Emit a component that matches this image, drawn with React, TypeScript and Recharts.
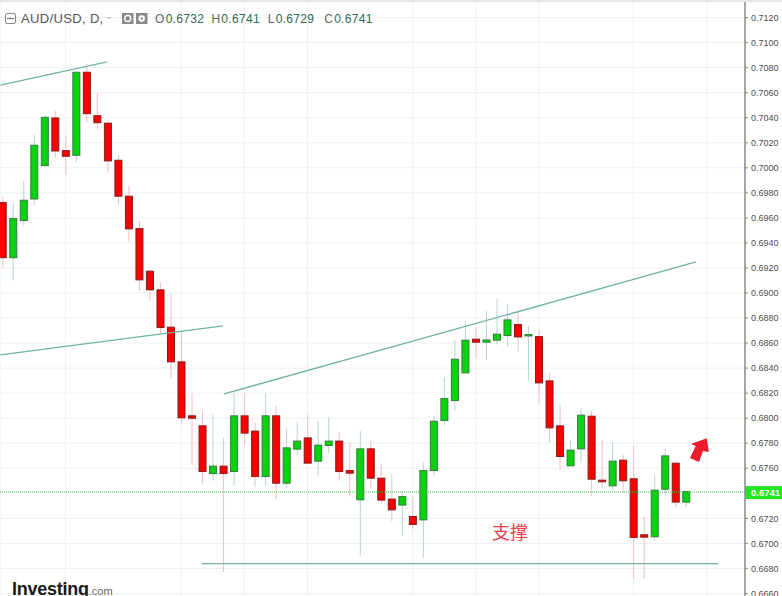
import React from "react";
import {
  ComposedChart,
  Bar,
  XAxis,
  YAxis,
  CartesianGrid,
  ReferenceLine,
} from "recharts";

const opens = [
  0.69722, 0.69282, 0.69578, 0.69751, 0.70017, 0.70398, 0.70137, 0.701, 0.70763, 0.70416, 0.70356,
  0.7006, 0.69773, 0.69514, 0.69174, 0.69025, 0.68727, 0.6845, 0.68019, 0.67939, 0.67558, 0.67617,
  0.67574, 0.68019, 0.67897, 0.67534, 0.68019, 0.67481, 0.67753, 0.67843, 0.67657, 0.67782, 0.67817,
  0.67582, 0.67348, 0.67755, 0.67521, 0.67354, 0.67306, 0.67215, 0.67188, 0.67582, 0.67981, 0.68141,
  0.68362, 0.68631, 0.68607, 0.68623, 0.6866, 0.68748, 0.68657, 0.68652, 0.68298, 0.67939, 0.6762,
  0.67755, 0.68016, 0.67505, 0.6746, 0.67665, 0.67516, 0.67069, 0.67053, 0.67433, 0.67641, 0.6733,
];
const closes = [
  0.69282, 0.69594, 0.69741, 0.7018, 0.70403, 0.70134, 0.70092, 0.70763, 0.70432, 0.7036, 0.70055,
  0.69773, 0.69512, 0.69105, 0.69025, 0.68724, 0.6845, 0.68003, 0.68, 0.67574, 0.67617, 0.67558,
  0.68019, 0.67881, 0.67534, 0.68019, 0.67481, 0.67763, 0.67817, 0.67641, 0.67785, 0.67817, 0.67574,
  0.67561, 0.67755, 0.67521, 0.67346, 0.67268, 0.67374, 0.67151, 0.67582, 0.67976, 0.68157, 0.68471,
  0.68623, 0.68607, 0.68625, 0.68671, 0.68785, 0.68649, 0.68668, 0.68282, 0.67923, 0.67694, 0.67745,
  0.68024, 0.67513, 0.67492, 0.67657, 0.675, 0.67047, 0.6705, 0.67425, 0.67699, 0.6733, 0.67414,
];
const highs = [
  0.69767, 0.69722, 0.69895, 0.70262, 0.70422, 0.70456, 0.70257, 0.70765, 0.70829, 0.706, 0.70376,
  0.701, 0.69855, 0.69576, 0.69184, 0.69086, 0.68993, 0.68692, 0.682, 0.68059, 0.68027, 0.67843,
  0.682, 0.68203, 0.67963, 0.682, 0.68099, 0.67921, 0.67965, 0.68027, 0.67979, 0.68008, 0.67885,
  0.67806, 0.67899, 0.67817, 0.67635, 0.67556, 0.6742, 0.6737, 0.67646, 0.68019, 0.68328, 0.68625,
  0.68772, 0.68727, 0.68857, 0.68953, 0.68913, 0.68847, 0.68737, 0.68705, 0.6836, 0.68107, 0.67827,
  0.6808, 0.68059, 0.67827, 0.67806, 0.67707, 0.67779, 0.67215, 0.67548, 0.67761, 0.67641, 0.67414,
];
const lows = [
  0.692, 0.69099, 0.69536, 0.69698, 0.70015, 0.70081, 0.69948, 0.70044, 0.70366, 0.70308, 0.69956,
  0.69703, 0.6941, 0.69017, 0.68937, 0.68673, 0.6832, 0.67947, 0.67627, 0.67478, 0.675, 0.66771,
  0.6746, 0.67782, 0.67452, 0.6746, 0.67354, 0.67446, 0.67702, 0.67641, 0.6754, 0.67721, 0.675,
  0.67374, 0.66901, 0.67446, 0.67322, 0.67175, 0.67061, 0.67114, 0.66883, 0.6754, 0.67941, 0.68061,
  0.68362, 0.68474, 0.68466, 0.68588, 0.68572, 0.68532, 0.68301, 0.6812, 0.67806, 0.67588, 0.6762,
  0.67646, 0.6738, 0.67446, 0.67422, 0.67402, 0.66717, 0.66717, 0.67021, 0.6738, 0.6729, 0.6729,
];

// 0.6740 is left out: the last price tag sits on top of it
const priceTicks = [
  0.712, 0.71, 0.708, 0.706, 0.704, 0.702, 0.7, 0.698, 0.696, 0.694, 0.692, 0.69, 0.688, 0.686, 0.684,
  0.682, 0.68, 0.678, 0.676, 0.672, 0.67, 0.668, 0.666,
];
const dateTicks = [0, 6, 17, 23, 29, 39, 45, 51, 60, 67];
const lastPrice = 0.6741;

const trendLines = [
  [{ x: -0.2, y: 0.70661 }, { x: 9.94, y: 0.70845 }],
  [{ x: -0.2, y: 0.68505 }, { x: 20.97, y: 0.68737 }],
  [{ x: 21.06, y: 0.68194 }, { x: 65.95, y: 0.69248 }],
  [{ x: 18.97, y: 0.66839 }, { x: 68.04, y: 0.66839 }],
];

const quote = [
  ["O", "0.6732"],
  ["H", "0.6741"],
  ["L", "0.6729"],
  ["C", "0.6741"],
];

const rows = opens.map((open, i) => ({
  index: i,
  open,
  close: closes[i],
  high: highs[i],
  low: lows[i],
}));

const UP = "#0ad210";
const DOWN = "#fb0000";

const Candle = (props: any) => {
  const { x, y, width, height, payload } = props;
  const { open, close, high, low } = payload;
  const up = close >= open;
  const perUnit = height / (high - low);
  const top = y + (high - Math.max(open, close)) * perUnit;
  const bodyH = Math.abs(open - close) * perUnit;
  const mid = x + width / 2;
  return (
    <g>
      <line x1={mid} x2={mid} y1={y} y2={y + height} stroke={up ? "#b9d3d6" : "#f3bcc0"} strokeWidth={1} />
      <rect
        x={x}
        y={top}
        width={width}
        height={bodyH}
        fill={up ? UP : DOWN}
        stroke={up ? "#2f7f3a" : "#8a1c1c"}
        strokeWidth={1}
      />
    </g>
  );
};

const PriceTag = (props: any) => {
  const { viewBox } = props;
  const right = viewBox.x + viewBox.width;
  return (
    <g>
      <rect x={right} y={viewBox.y - 6} width={37} height={13} fill="#22e622" />
      <text x={right + 6} y={viewBox.y + 3.5} fill="#fff" fontSize={9.5} fontWeight={700} fontFamily="'Liberation Sans'">
        {lastPrice.toFixed(4)}
      </text>
    </g>
  );
};

export default function App() {
  return (
    <div
      style={{
        position: "absolute",
        left: 0,
        top: 0,
        width: 782,
        height: 596,
        overflow: "hidden",
        background: "#fff",
        fontFamily: "'Liberation Sans'",
      }}
    >
      <ComposedChart
        width={782}
        height={596}
        data={rows}
        margin={{ top: 0, right: 0, bottom: 0, left: 0 }}
      >
        <CartesianGrid stroke="#eef0f2" />
        <XAxis
          dataKey="index"
          type="number"
          hide
          domain={[-0.2377, 70.61]}
          ticks={dateTicks}
          allowDataOverflow
        />
        <YAxis
          orientation="right"
          width={37}
          domain={[0.6658, 0.7134]}
          ticks={priceTicks}
          interval={0}
          allowDataOverflow
          tickLine={{ stroke: "#888" }}
          tickSize={3}
          tickMargin={3}
          tickFormatter={(v: number) => v.toFixed(4)}
          tick={{ fontSize: 9, fill: "#4d4d4d", fontFamily: "'Liberation Sans'", textAnchor: "start" }}
          axisLine={{ stroke: "#8c8c8c", strokeWidth: 1.5 }}
        />
        {trendLines.map((segment, i) => (
          <ReferenceLine key={i} segment={segment} stroke="#6fb3a4" strokeWidth={1.3} ifOverflow="visible" />
        ))}
        <Bar
          dataKey={(d: any) => [d.low, d.high]}
          barSize={7}
          shape={<Candle />}
          isAnimationActive={false}
        />
        <ReferenceLine
          y={lastPrice}
          stroke="#35c935"
          strokeDasharray="1 1"
          label={<PriceTag />}
        />
      </ComposedChart>

      <div style={{ position: "absolute", left: 0, top: 0, width: 782, height: 2, background: "#e6e6e6" }} />

      <svg width={782} height={596} style={{ position: "absolute", left: 0, top: 0, pointerEvents: "none" }}>
        <rect x={5.5} y={13.5} width={10} height={10} rx={1.5} fill="none" stroke="#888" />
        <line x1={7} x2={14} y1={18.5} y2={18.5} stroke="#777" />
        <path d="M106 17 L112 17 L109 19.5 Z" fill="#ccc" />
        <rect x={122} y={13} width={11.5} height={11} fill="#8a8a8a" />
        <circle cx={127.7} cy={18.5} r={3} fill="none" stroke="#fff" strokeWidth={1.4} />
        <rect x={136} y={13} width={11.5} height={11} fill="#8a8a8a" />
        <circle cx={141.7} cy={18.5} r={3.2} fill="#fff" />
        <circle cx={141.7} cy={18.5} r={1.2} fill="#8a8a8a" />
        <polygon
          points="691,444 706.7,438.3 709,452 703,451 699,462 690,458 695.7,446"
          fill="#ec1c2c"
        />
        <circle cx={64.5} cy={584} r={1.6} fill="#f09a2a" />
      </svg>

      <div style={{ position: "absolute", left: 21, top: 11, fontSize: 13, letterSpacing: 0.35, color: "#555", whiteSpace: "nowrap" }}>
        AUD/USD, D,
      </div>
      <div style={{ position: "absolute", left: 155, top: 12, fontSize: 12, letterSpacing: 0.3, whiteSpace: "nowrap" }}>
        {quote.map(([k, v]) => (
          <span key={k} style={{ display: "inline-block", width: 56.4 }}>
            <span style={{ color: "#666", marginRight: 1 }}>{k}</span>
            <span style={{ color: "#2d6a4f" }}>{v}</span>
          </span>
        ))}
      </div>

      <div
        style={{
          position: "absolute",
          left: 492,
          top: 518,
          fontSize: 18,
          color: "#e8404a",
          fontFamily: "'Noto Sans CJK SC'",
        }}
      >
        支撑
      </div>

      <div style={{ position: "absolute", left: 12, top: 579, whiteSpace: "nowrap" }}>
        <span style={{ fontSize: 18, fontWeight: 700, letterSpacing: -0.25, color: "#1a1a1a" }}>Investing</span>
        <span style={{ fontSize: 11, color: "#666" }}>.com</span>
      </div>
    </div>
  );
}
